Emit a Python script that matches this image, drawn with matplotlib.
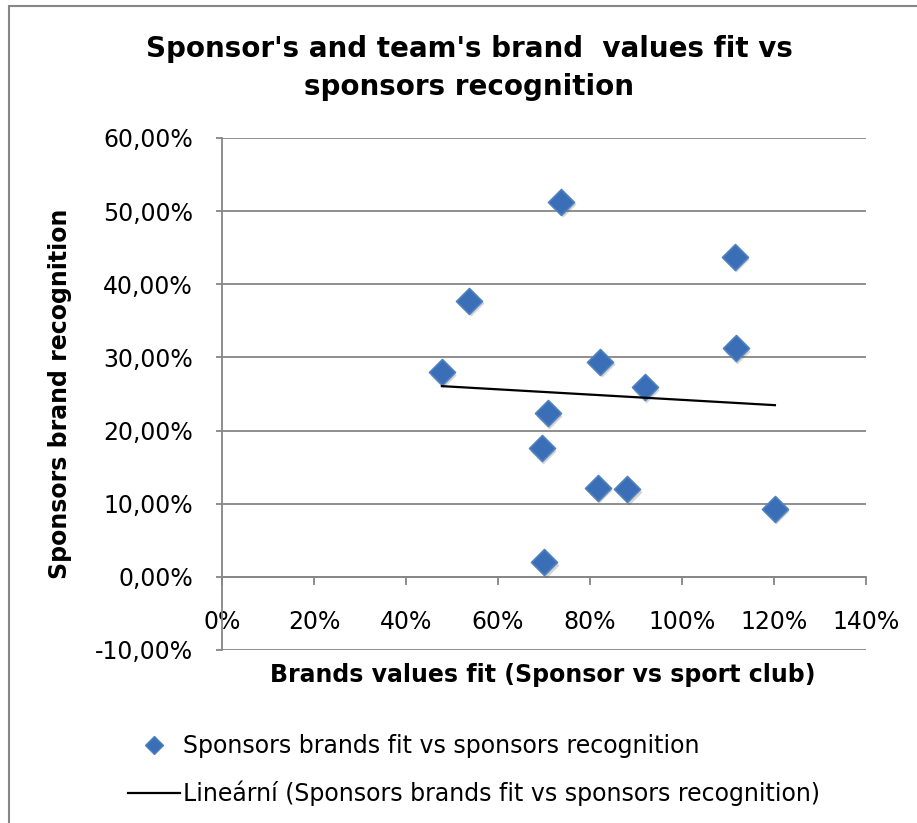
import numpy as np
import matplotlib.pyplot as plt
import matplotlib.transforms as mtransforms
from matplotlib.lines import Line2D
from matplotlib.patches import Rectangle
from matplotlib.ticker import FuncFormatter, FixedLocator

# brand values fit (%) vs sponsor recognition (%)
brand_fit = [47.8, 53.8, 73.7, 70.8, 69.5, 70.1, 82.2, 81.7, 88.1, 91.9, 111.5, 111.7, 120.2]
recognition = [27.97, 37.75, 51.3, 22.4, 17.56, 2.0, 29.4, 12.2, 11.96, 25.9, 43.75, 31.24, 9.33]

x_ticks = [0, 20, 40, 60, 80, 100, 120, 140]
y_ticks = [-10, 0, 10, 20, 30, 40, 50, 60]

series_name = "Sponsors brands fit vs sponsors recognition"
trend_name = "Lineární (Sponsors brands fit vs sponsors recognition)"

plt.rcParams['font.family'] = ['DejaVu Sans']
GRAY = '#868686'
BLUE = '#3a6fb7'

fig = plt.figure(figsize=(9.17, 8.23), dpi=100)
fig.patch.set_facecolor('white')
ax = fig.add_axes([222 / 917, 1 - 650 / 823, 644 / 917, 512 / 823])

x = np.array(brand_fit)
y = np.array(recognition)

# linear trend over the data range
slope, intercept = np.polyfit(x, y, 1)
xs = np.array([x.min(), x.max()])

# soft shadow under the diamonds
shadow = mtransforms.offset_copy(ax.transData, fig=fig, x=1.5, y=-2.5, units='dots')
ax.scatter(x, y, marker='D', s=175, color='#555555', alpha=0.25, lw=0,
           transform=shadow, zorder=3, clip_on=False)
ax.scatter(x, y, marker='D', s=175, facecolor=BLUE, edgecolor='#4f81bd',
           lw=1.2, zorder=4, clip_on=False)
ax.plot(xs, slope * xs + intercept, color='black', lw=1.6, zorder=5)

ax.set_xlim(0, 140)
ax.set_ylim(-10, 60)
ax.xaxis.set_major_locator(FixedLocator(x_ticks))
ax.yaxis.set_major_locator(FixedLocator(y_ticks))
ax.xaxis.set_major_formatter(FuncFormatter(lambda v, p: f"{v:.0f}%"))
ax.yaxis.set_major_formatter(FuncFormatter(lambda v, p: f"{v:.2f}%".replace('.', ',')))

ax.grid(axis='y', color=GRAY, lw=1.3)
ax.set_axisbelow(True)
for side in ['top', 'right']:
    ax.spines[side].set_visible(False)
ax.spines['bottom'].set_position(('data', 0))
ax.spines['bottom'].set_color(GRAY)
ax.spines['left'].set_color(GRAY)
ax.spines['bottom'].set_linewidth(1.3)
ax.spines['left'].set_linewidth(1.3)

ax.tick_params(axis='x', direction='out', length=6, width=1.3, color=GRAY,
               labelsize=17, pad=18)
ax.tick_params(axis='y', direction='out', length=4, width=1.3, color=GRAY,
               labelsize=17, pad=17)

# titles
fig.text(469 / 917, 1 - 68 / 823,
         "Sponsor's and team's brand  values fit vs\nsponsors recognition",
         ha='center', va='center', fontsize=20, fontweight='bold', linespacing=1.45)
fig.text(60 / 917, 1 - 394 / 823, "Sponsors brand recognition", rotation=90,
         ha='center', va='center', fontsize=17, fontweight='bold')
fig.text(543 / 917, 1 - 675 / 823, "Brands values fit (Sponsor vs sport club)",
         ha='center', va='center', fontsize=17, fontweight='bold')

# legend below the plot
handles = [
    Line2D([], [], marker='D', ls='none', markersize=9, markerfacecolor=BLUE,
           markeredgecolor='#4f81bd', label=series_name),
    Line2D([], [], color='black', lw=1.6, label=trend_name),
]
fig.legend(handles=handles, loc='upper left', bbox_to_anchor=(128 / 917, 1 - 734 / 823),
           frameon=False, fontsize=17, handlelength=2.2, handletextpad=0.15,
           labelspacing=0.95, borderpad=0, borderaxespad=0)

# chart area border
fig.add_artist(Rectangle((9 / 917, -0.1), 2, 1.1 - 6 / 823, transform=fig.transFigure,
                         fill=False, edgecolor=GRAY, lw=1.5))

fig.savefig('out.png', dpi=100, facecolor='white')
